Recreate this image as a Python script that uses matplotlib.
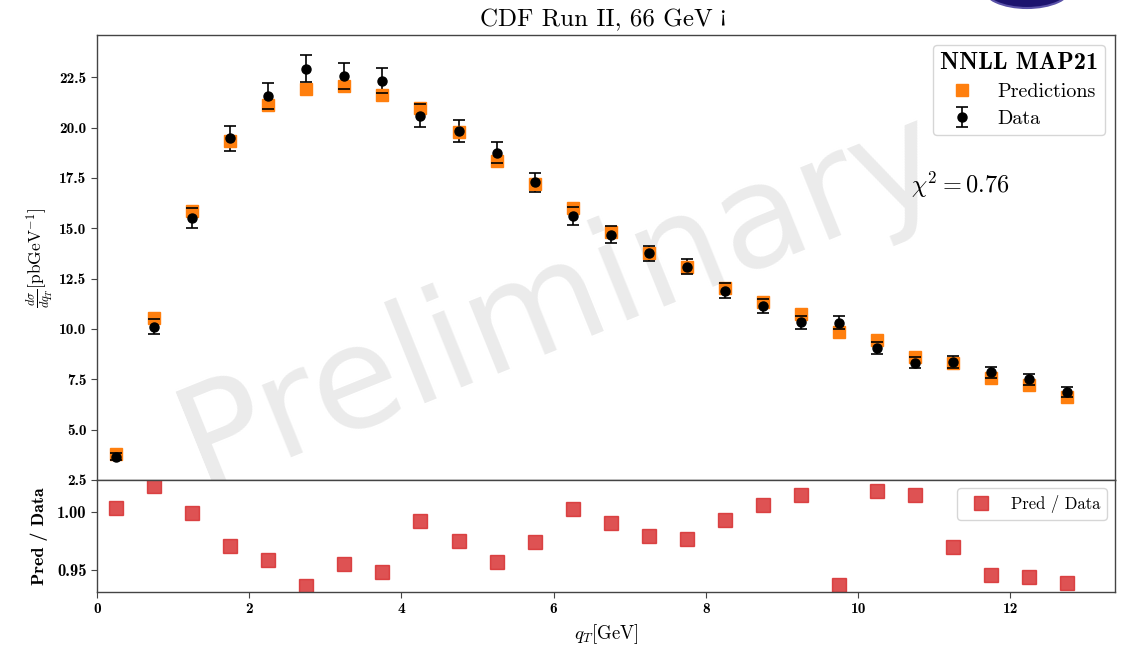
import matplotlib
matplotlib.use('Agg')
import matplotlib.pyplot as plt
from matplotlib.patches import Ellipse
from matplotlib.lines import Line2D

plt.rcParams['font.family'] = ['cmr10', 'DejaVu Serif']
plt.rcParams['mathtext.fontset'] = 'cm'
plt.rcParams['axes.formatter.use_mathtext'] = True

# valores
qT = [0.25, 0.75, 1.25, 1.75, 2.25, 2.75, 3.25, 3.75, 4.25, 4.75, 5.25, 5.75, 6.25,
      6.75, 7.25, 7.75, 8.25, 8.75, 9.25, 9.75, 10.25, 10.75, 11.25, 11.75, 12.25, 12.75]
datos = [3.66, 10.11, 15.52, 19.46, 21.56, 22.93, 22.55, 22.33, 20.60, 19.84, 18.76, 17.29, 15.62,
         14.69, 13.75, 13.09, 11.90, 11.14, 10.33, 10.31, 9.07, 8.33, 8.37, 7.84, 7.51, 6.88]
errores = [0.18, 0.37, 0.51, 0.60, 0.65, 0.68, 0.65, 0.62, 0.58, 0.53, 0.52, 0.47, 0.44,
           0.40, 0.38, 0.37, 0.36, 0.34, 0.32, 0.33, 0.29, 0.27, 0.29, 0.27, 0.27, 0.25]
predicciones = [3.79, 10.57, 15.85, 19.34, 21.14, 21.94, 22.07, 21.61, 20.95, 19.79, 18.35, 17.22, 16.01,
                14.82, 13.75, 13.09, 12.06, 11.35, 10.74, 9.86, 9.45, 8.62, 8.29, 7.58, 7.21, 6.63]
cociente = [1.0037, 1.0224, 0.9994, 0.9707, 0.9586, 0.9356, 0.9552, 0.9477, 0.9925, 0.9753, 0.9563,
            0.9741, 1.0026, 0.9905, 0.9793, 0.9770, 0.9931, 1.0060, 1.0147, 0.9371, 1.0181, 1.0147,
            0.9698, 0.9457, 0.9434, 0.9390]
chi2 = 0.76

fig = plt.figure(figsize=(11.24, 6.46), dpi=100)
ax1 = fig.add_axes([0.0863, 0.25697, 0.9057, 0.68885])
ax2 = fig.add_axes([0.0863, 0.08359, 0.9057, 0.17338], sharex=ax1)

# marca de agua
ax1.text(0.455, 0.405, 'Preliminary', transform=ax1.transAxes, fontsize=103, rotation=22,
         color='#ebebeb', family='DejaVu Sans', ha='center', va='center', zorder=0)

# panel superior
eb = ax1.errorbar(qT, datos, yerr=errores, fmt='o', color='k', ms=6.5, capsize=4,
                  elinewidth=1.2, capthick=1.2, zorder=3)
eb[2][0].set_zorder(1)
for c in eb[1]:
    c.set_zorder(2.5)
ax1.plot(qT, predicciones, 's', color='#ff7f0e', ms=8.5, zorder=2)

ax1.set_xlim(0, 13.375)
ax1.set_ylim(2.5, 24.6)
ax1.set_yticks([2.5, 5.0, 7.5, 10.0, 12.5, 15.0, 17.5, 20.0, 22.5])
ax1.set_yticklabels(['2.5', '5.0', '7.5', '10.0', '12.5', '15.0', '17.5', '20.0', '22.5'],
                    fontfamily='cmb10', fontsize=11)
ax1.tick_params(axis='x', bottom=False, labelbottom=False)
ax1.set_ylabel(r'$\frac{d\sigma}{dq_T}$[pbGeV$^{-1}$]', fontsize=12.5)
ax1.yaxis.set_label_coords(-0.04, 0.5)

# titulo: el signo ¡ va aparte porque cmr10 no lo tiene en su sitio
titulo = fig.text(0.427, 0.959, 'CDF Run II, 66 GeV', fontsize=18, ha='left', va='baseline')
ax1.annotate('¡', xy=(1, 0), xycoords=titulo, xytext=(4, 3.5), textcoords='offset points',
             fontsize=15, family='DejaVu Serif', ha='left', va='bottom', annotation_clip=False)

ax1.text(0.80, 0.663, r'$\boldsymbol{\chi^2 = 0.76}$'.replace('0.76', '%.2f' % chi2),
         transform=ax1.transAxes, fontsize=17.5, ha='left', va='center')

h_pred = Line2D([], [], marker='s', ls='none', color='#ff7f0e', ms=8.5)
leg = ax1.legend([h_pred, eb], ['Predictions', 'Data'], loc='upper right',
                 title='NNLL MAP21', fontsize=14.5, labelspacing=0.45, borderpad=0.35,
                 title_fontproperties={'family': 'cmb10', 'size': 17.5})

# panel inferior
ax2.plot(qT, cociente, 's', color='tab:red', alpha=0.8, ms=10, label='Pred / Data')
ax2.set_ylim(0.9308, 1.0276)
ax2.set_yticks([0.95, 1.00])
ax2.set_yticklabels(['0.95', '1.00'], fontfamily='cmb10', fontsize=12)
ax2.set_xticks([0, 2, 4, 6, 8, 10, 12])
ax2.set_xticklabels(['0', '2', '4', '6', '8', '10', '12'], fontfamily='cmb10', fontsize=11)
ax2.set_ylabel('Pred / Data', fontfamily='cmb10', fontsize=13)
ax2.yaxis.set_label_coords(-0.048, 0.5)
ax2.set_xlabel(r'$q_T$[GeV]', fontsize=13.5)
ax2.legend(loc='upper right', fontsize=12)

for ax in (ax1, ax2):
    for s in ax.spines.values():
        s.set_color('#444444')
        s.set_linewidth(1.0)
    ax.tick_params(direction='out', length=4, color='#444444')

# logo recortado arriba a la derecha
fig.add_artist(Ellipse((0.9137, 1.0186), 0.078, 0.062, transform=fig.transFigure,
                       facecolor='#1c136e', edgecolor='#5a52a8', lw=1.5))

fig.savefig('out.png', dpi=100)
